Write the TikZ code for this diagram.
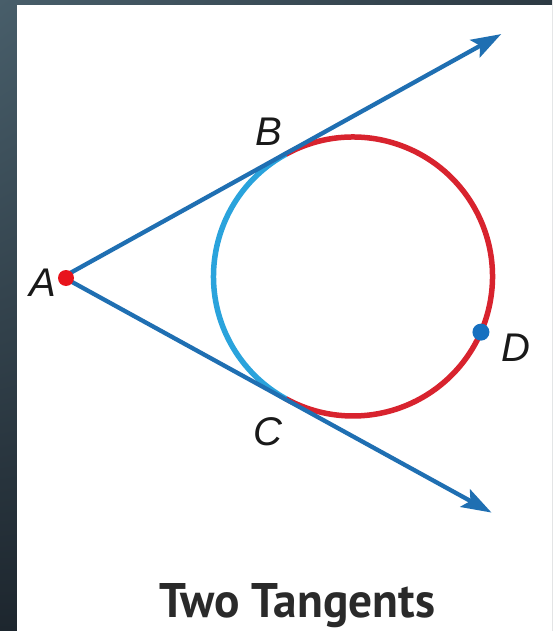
\documentclass[tikz,border=0pt]{standalone}
\usepackage{fontspec}
\setmainfont{Liberation Sans}
\newfontfamily\lblfont{Liberation Sans}
\newfontfamily\ttlfont{PT Sans}
\usetikzlibrary{arrows.meta,calc,shadings}
\definecolor{tanblue}{HTML}{1F6FB2}
\definecolor{arcblue}{HTML}{2AA3DC}
\definecolor{arcred}{HTML}{D8232E}
\definecolor{dotblue}{HTML}{1670C0}
\definecolor{dotred}{HTML}{E8141C}
\definecolor{titlegray}{HTML}{2A2A2A}
\definecolor{bgUL}{RGB}{72,94,106}
\definecolor{bgUR}{RGB}{45,58,67}
\definecolor{bgLO}{RGB}{29,38,46}
\begin{document}
\begin{tikzpicture}[x=1pt,y=1pt,
  tangentline/.style={draw=tanblue,line width=4.3pt,-{Stealth[length=30pt,width=20pt,inset=6pt]}},
  minorarc/.style={draw=arcblue,line width=5.5pt},
  majorarc/.style={draw=arcred,line width=5.5pt},
  ptlabel/.style={font=\lblfont\itshape\fontsize{40}{44}\selectfont,text=black!90,inner sep=0pt}]
\useasboundingbox (0,0) rectangle (552,-631);
\shade[upper left=bgUL,upper right=bgUR,lower left=bgLO,lower right=bgLO]
  (0,0) rectangle (552,-631);
\fill[white] (17,-5) rectangle (552,-631);
% geometry
\coordinate (A) at (63,-277);
\coordinate (O) at (353,-276.5);
\def\rad{139.5}
\coordinate (B) at ($(O)+(118.75:\rad)$);
\coordinate (C) at ($(O)+(241.25:\rad)$);
\coordinate (D) at ($(O)+(-23.5:\rad)$);
\coordinate (E1) at ($(A)+(29:501)$);
\coordinate (E2) at ($(A)+(-28.8:489)$);
% arcs
\draw[minorarc] (B) arc[start angle=118.75,end angle=241.25,radius=\rad];
\draw[majorarc] (B) arc[start angle=118.75,end angle=-118.75,radius=\rad];
% tangents
\draw[tangentline] (A) -- (E1);
\draw[tangentline] (A) -- (E2);
% points
\fill[dotred] (A) ++(3,-1) circle[radius=8];
\fill[dotblue] (D) circle[radius=8.5];
% labels
\node[ptlabel] (lA) at (43,-283) {A};
\node[ptlabel] (lB) at (269,-132) {B};
\node[ptlabel] (lC) at (268,-432) {C};
\node[ptlabel] (lD) at (516,-348) {D};
\node[anchor=base,inner sep=0pt,text=titlegray] (title) at (297.5,-617)
  {\resizebox{275pt}{34pt}{\ttlfont\bfseries Two Tangents}};
\end{tikzpicture}
\end{document}
